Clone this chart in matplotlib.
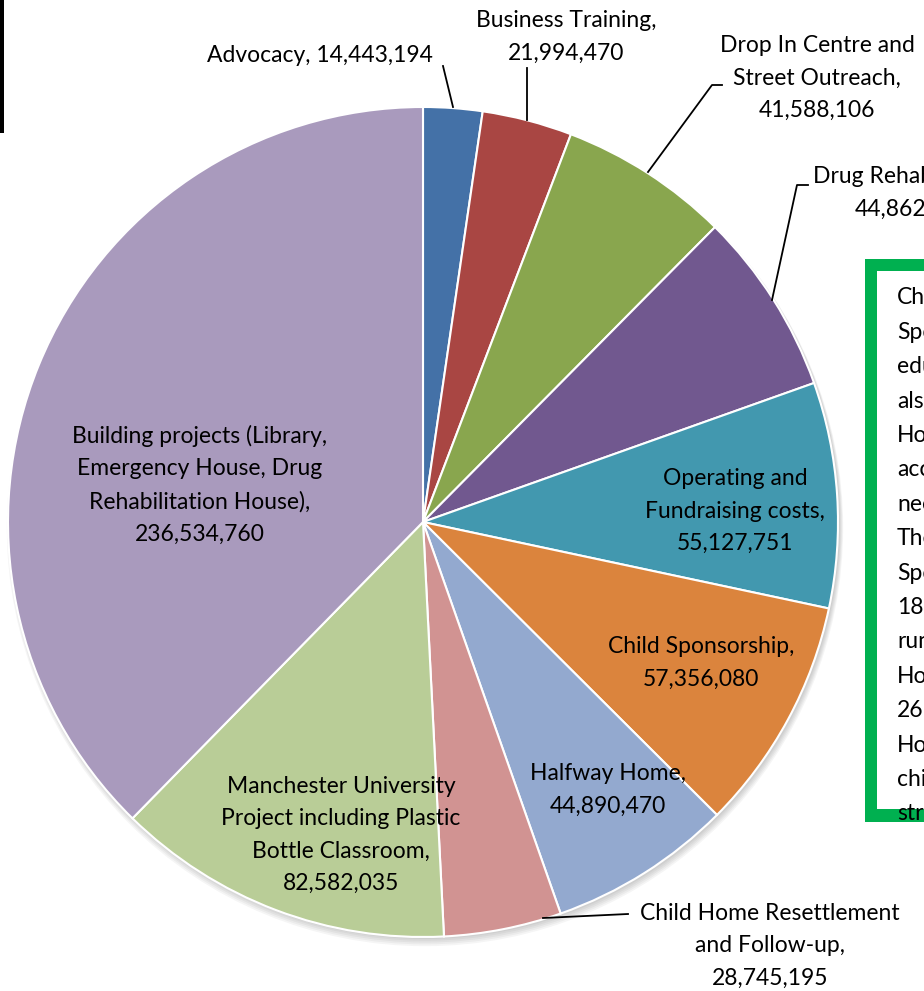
import matplotlib
matplotlib.use("Agg")
import matplotlib.pyplot as plt
from matplotlib.patches import Rectangle, Circle

plt.rcParams['font.family'] = ['Lato', 'DejaVu Sans']

# slice data, clockwise from 12 o'clock
categories = ["Advocacy", "Business Training", "Drop In Centre and Street Outreach",
              "Drug Rehabilitation", "Operating and Fundraising costs", "Child Sponsorship",
              "Halfway Home", "Child Home Resettlement and Follow-up",
              "Manchester University Project including Plastic Bottle Classroom",
              "Building projects (Library, Emergency House, Drug Rehabilitation House)"]
values = [14443194, 21994470, 41588106, 44862590, 55127751, 57356080,
          44890470, 28745195, 82582035, 236534760]
colors = ["#4471A7", "#A94643", "#89A64E", "#71588F", "#4298AF", "#DB843D",
          "#93A9CF", "#D19392", "#B9CD97", "#A99ABD"]

# label text as wrapped in the chart
label_text = ["Advocacy, {}",
              "Business Training,\n{}",
              "Drop In Centre and\nStreet Outreach,\n{}",
              "Drug Rehabilitation,\n{}",
              "Operating and\nFundraising costs,\n{}",
              "Child Sponsorship,\n{}",
              "Halfway Home,\n{}",
              "Child Home Resettlement\nand Follow-up,\n{}",
              "Manchester University\nProject including Plastic\nBottle Classroom,\n{}",
              "Building projects (Library,\nEmergency House, Drug\nRehabilitation House),\n{}"]

box_lines = ["Child", "Sponsorship", "education", "also", "House", "accommodation",
             "needs.", "The", "Sponsorship", "18", "running", "House", "26", "House",
             "children", "street"]

W, H = 924, 991
fig = plt.figure(figsize=(W / 100, H / 100), dpi=100)
ax = fig.add_axes([0, 0, 1, 1])

def Y(y):
    return H - y

cx, cy, r = 423, Y(522), 415

# soft shadow under the pie
for i in range(5):
    ax.add_patch(Circle((cx + 2, cy - 2 - i), r + i * 0.8, color="black", alpha=0.04, lw=0))

ax.pie(values, colors=colors, startangle=90, counterclock=False,
       center=(cx, cy), radius=r,
       wedgeprops=dict(edgecolor="white", linewidth=1.5))

fs = 16.5
# label anchors (pixel coords), alignment and leader lines
label_pos = [(320, 56), (566, 37), (817, 78), (813, 193), (735, 511), (701, 663),
             (608, 790), (770, 946), (341, 835), (200, 485)]
label_ha = ["center", "center", "center", "left", "center", "center",
            "center", "center", "center", "center"]
leaders = [[(443, 66), (453, 107)],
           [(527, 68), (527, 120)],
           [(648, 172), (712, 85), (722, 85)],
           [(772, 300), (797, 185), (808, 185)],
           None, None, None,
           [(543, 918), (628, 914)],
           None, None]

for txt, v, (lx, ly), ha, ld in zip(label_text, values, label_pos, label_ha, leaders):
    ax.text(lx, Y(ly), txt.format(f"{v:,}"), ha=ha, va="center", multialignment="center",
            fontsize=fs, linespacing=1.67, color="black")
    if ld:
        ax.plot([p[0] for p in ld], [Y(p[1]) for p in ld], color="black", lw=1.3)

# black bar at top left
ax.add_patch(Rectangle((0, Y(133)), 4, 133, color="black", lw=0))

# green text box, cut by the right edge
ax.add_patch(Rectangle((865, Y(822)), 100, 563, color="#00B050", lw=0))
ax.add_patch(Rectangle((877, Y(809)), 100, 538, color="white", lw=0))
for i, s in enumerate(box_lines):
    ax.text(897, Y(298 + i * 34.4), s, ha="left", va="center", fontsize=fs, color="black")

ax.set_xlim(0, W)
ax.set_ylim(0, H)
ax.set_aspect("equal")
ax.axis("off")

fig.savefig("out.png", dpi=100)
